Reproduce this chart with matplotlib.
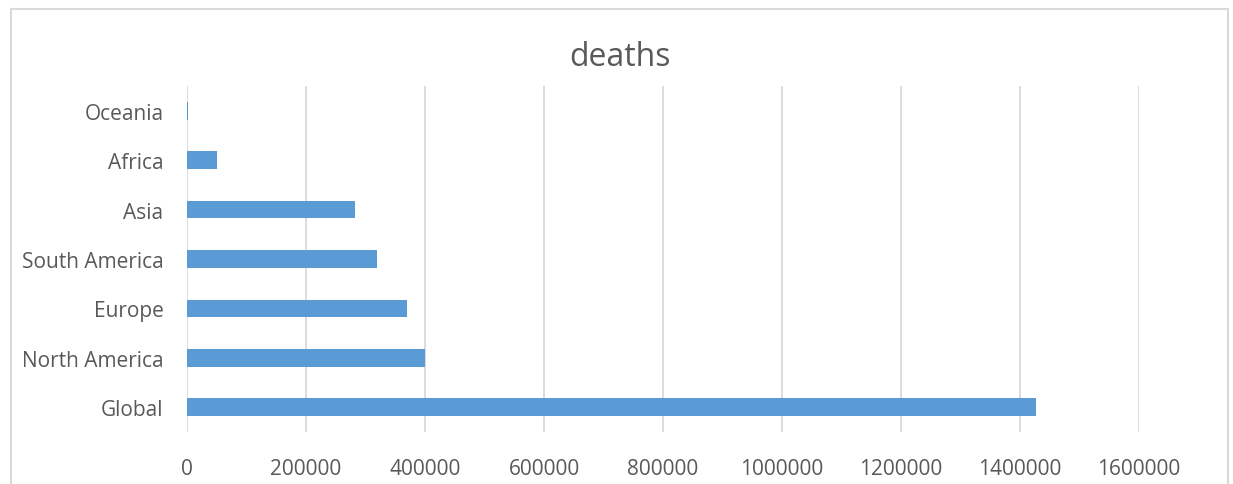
import matplotlib
matplotlib.use("Agg")
import matplotlib.pyplot as plt
from matplotlib.patches import Rectangle

categories = ["Global", "North America", "Europe", "South America", "Asia", "Africa", "Oceania"]
deaths = [1427000, 399600, 370500, 320100, 283100, 50400, 900]
xticks = [0, 200000, 400000, 600000, 800000, 1000000, 1200000, 1400000, 1600000]

plt.rcParams['font.family'] = ['Open Sans', 'DejaVu Sans']
text_color = '#595959'
grid_color = '#D9D9D9'
bar_color = '#5B9BD5'

W, H = 1233, 485
fig = plt.figure(figsize=(W / 100, H / 100), dpi=100)
fig.patch.set_facecolor('white')

# outer chart border
fig.add_artist(Rectangle((11 / W, -0.02), 1217 / W, 1 - 10 / H + 0.02,
                         transform=fig.transFigure, fill=False,
                         edgecolor=grid_color, linewidth=1.5))

left, right, top, bottom = 187, 1139, 87, 433
ax = fig.add_axes([left / W, 1 - bottom / H, (right - left) / W, (bottom - top) / H])

y = list(range(len(categories)))
ax.barh(y, deaths, height=0.36, color=bar_color, zorder=3)
ax.set_yticks(y)
ax.set_yticklabels(categories)
ax.set_ylim(-0.5, len(categories) - 0.5)
ax.set_xlim(0, 1600000)
ax.set_xticks(xticks)
ax.set_xticklabels([str(v) for v in xticks])
ax.xaxis.grid(True, color=grid_color, linewidth=1.3, zorder=0)
ax.tick_params(axis='both', length=0, labelsize=15, colors=text_color)
ax.tick_params(axis='y', pad=17)
ax.tick_params(axis='x', pad=19)
for s in ax.spines.values():
    s.set_visible(False)

fig.text(620 / W, 1 - 66 / H, "deaths", ha='center', va='baseline',
         fontsize=23, color=text_color)

fig.savefig("out.png", dpi=100)
